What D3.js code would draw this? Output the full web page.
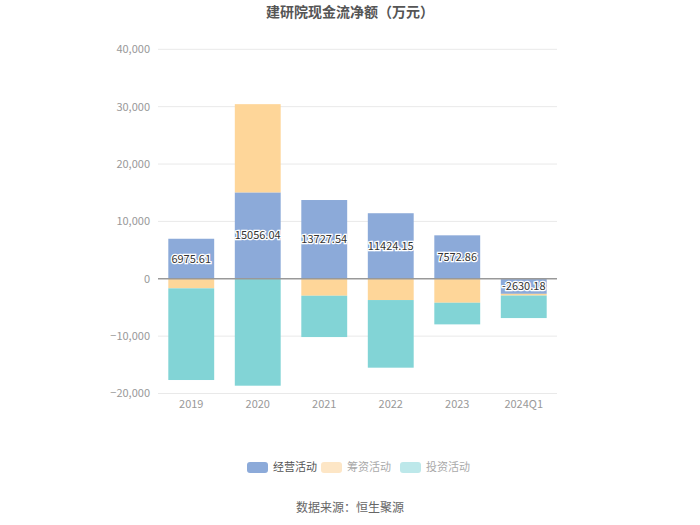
<!DOCTYPE html>
<html>
<head>
<meta charset="utf-8">
<script src="https://cdn.jsdelivr.net/npm/d3@7"></script>
<style>
  body { margin: 0; background: #fff; }
  svg { font-family: "Microsoft YaHei", "Noto Sans CJK SC", sans-serif; }
</style>
</head>
<body>
<div id="chart"></div>
<script>
var years = ['2019', '2020', '2021', '2022', '2023', '2024Q1'];
var operating = [6975.61, 15056.04, 13727.54, 11424.15, 7572.86, -2630.18];
var financing = [-1670, 15380, -2960, -3710, -4180, -300];
var investing = [-15980, -18640, -7200, -11790, -3770, -3920];
var seriesNames = ['经营活动', '筹资活动', '投资活动'];
var seriesColors = ['#8caad9', '#fed699', '#82d4d6'];
var legendColors = ['#8caad9', '#fde6c6', '#bde8ea'];
var yTicks = [-20000, -10000, 0, 10000, 20000, 30000, 40000];

var width = 700, height = 525;
var svg = d3.select('#chart').append('svg')
  .attr('width', width)
  .attr('height', height);

var x = d3.scaleBand()
  .domain(years)
  .range([158, 557])
  .paddingInner(0.31)
  .paddingOuter(0.155);

var y = d3.scaleLinear()
  .domain([-20000, 40000])
  .range([393.5, 49.3]);

// gridlines
svg.append('g').selectAll('line')
  .data(yTicks.filter(function(d) { return d !== 0; }))
  .enter().append('line')
  .attr('x1', 158).attr('x2', 557)
  .attr('y1', function(d) { return y(d); })
  .attr('y2', function(d) { return y(d); })
  .attr('stroke', '#e9e9e9');

// y labels
svg.append('g').selectAll('text')
  .data(yTicks)
  .enter().append('text')
  .attr('x', 150)
  .attr('y', function(d) { return y(d); })
  .attr('dy', '0.35em')
  .attr('text-anchor', 'end')
  .attr('font-size', 11)
  .attr('fill', '#999')
  .text(function(d) { return d3.format(',')(d); });

// stacked bars: positives up from 0, negatives down from 0
var series = [operating, financing, investing];
var segments = [];
years.forEach(function(yr, i) {
  var pos = 0, neg = 0;
  series.forEach(function(s, k) {
    var v = s[i], y0, y1;
    if (v >= 0) { y0 = pos; y1 = pos + v; pos = y1; }
    else { y0 = neg; y1 = neg + v; neg = y1; }
    segments.push({ year: yr, k: k, y0: y0, y1: y1, v: v });
  });
});

svg.append('g').selectAll('rect')
  .data(segments)
  .enter().append('rect')
  .attr('x', function(d) { return x(d.year); })
  .attr('width', x.bandwidth())
  .attr('y', function(d) { return y(Math.max(d.y0, d.y1)); })
  .attr('height', function(d) { return Math.abs(y(d.y0) - y(d.y1)); })
  .attr('fill', function(d) { return seriesColors[d.k]; });

// zero line
svg.append('line')
  .attr('x1', 158).attr('x2', 557)
  .attr('y1', y(0)).attr('y2', y(0))
  .attr('stroke', '#999')
  .attr('stroke-width', 1.5);

// x labels
svg.append('g').selectAll('text')
  .data(years)
  .enter().append('text')
  .attr('x', function(d) { return x(d) + x.bandwidth() / 2; })
  .attr('y', 408)
  .attr('text-anchor', 'middle')
  .attr('font-size', 11)
  .attr('fill', '#999')
  .text(function(d) { return d; });

// operating value labels
svg.append('g').selectAll('text')
  .data(segments.filter(function(d) { return d.k === 0; }))
  .enter().append('text')
  .attr('x', function(d) { return x(d.year) + x.bandwidth() / 2; })
  .attr('y', function(d) { return y((d.y0 + d.y1) / 2); })
  .attr('dy', '0.35em')
  .attr('text-anchor', 'middle')
  .attr('font-size', 11)
  .attr('fill', '#333')
  .attr('stroke', '#fff')
  .attr('stroke-width', 2.5)
  .attr('paint-order', 'stroke')
  .text(function(d) { return d.v.toFixed(2); });

// title
svg.append('text')
  .attr('x', 350).attr('y', 17)
  .attr('text-anchor', 'middle')
  .attr('font-size', 14)
  .attr('font-weight', 'bold')
  .attr('fill', '#555')
  .text('建研院现金流净额（万元）');

// legend
var legendX = [247, 321, 400];
var legend = svg.append('g').selectAll('g')
  .data(seriesNames)
  .enter().append('g')
  .attr('transform', function(d, i) { return 'translate(' + legendX[i] + ',462)'; });
legend.append('rect')
  .attr('width', 21).attr('height', 11).attr('rx', 3)
  .attr('fill', function(d, i) { return legendColors[i]; });
legend.append('text')
  .attr('x', 26).attr('y', 5.5).attr('dy', '0.35em')
  .attr('font-size', 11)
  .attr('fill', function(d, i) { return i === 0 ? '#555' : '#aaa'; })
  .text(function(d) { return d; });

// source
svg.append('text')
  .attr('x', 350).attr('y', 512)
  .attr('text-anchor', 'middle')
  .attr('font-size', 12)
  .attr('fill', '#666')
  .text('数据来源：恒生聚源');
</script>
</body>
</html>
